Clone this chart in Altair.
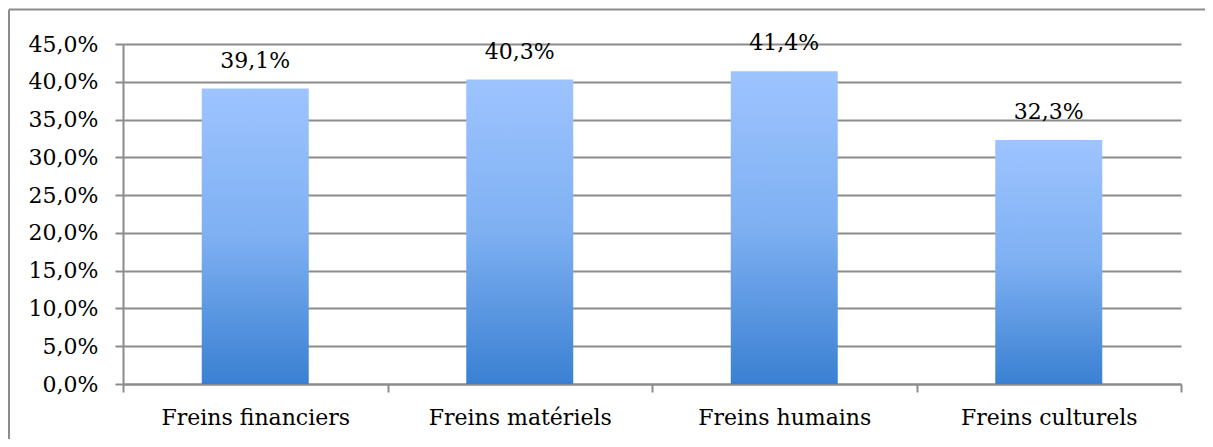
import altair as alt
import pandas as pd

categories = ["Freins financiers", "Freins matériels", "Freins humains", "Freins culturels"]
values = [39.1, 40.3, 41.4, 32.3]
y_ticks = [0, 5, 10, 15, 20, 25, 30, 35, 40, 45]

df = pd.DataFrame({"cat": categories, "val": values})
df["label"] = [f"{v:.1f}".replace(".", ",") + "%" for v in values]

W, H = 1058, 340
FONT = "DejaVu Serif"
GRID = "#8c8c8c"

base = alt.Chart(df)

x = alt.X(
    "cat:N", sort=categories, title=None,
    scale=alt.Scale(paddingInner=0, paddingOuter=0),
    axis=alt.Axis(labelAngle=0, tickBand="extent", tickSize=8, tickColor=GRID, tickWidth=2,
                  domainColor=GRID, domainWidth=2, labelFont=FONT, labelFontSize=22,
                  labelColor="black", labelPadding=15, labelLimit=0, labelOverlap=False,
                  grid=False),
)
y = alt.Y(
    "val:Q", title=None,
    scale=alt.Scale(domain=[0, 45], nice=False),
    axis=alt.Axis(values=y_ticks,
                  labelExpr="replace(format(datum.value, '.1f'), '.', ',') + '%'",
                  tickSize=8, tickColor=GRID, tickWidth=2, domainColor=GRID, domainWidth=2,
                  grid=True, gridColor=GRID, gridWidth=2, labelFont=FONT, labelFontSize=22,
                  labelColor="black", labelPadding=17, labelOverlap=False, labelLimit=0),
)

grad = alt.Gradient(
    gradient="linear",
    stops=[alt.GradientStop(color="#9EC4FF", offset=0),
           alt.GradientStop(color="#7EB0F2", offset=0.5),
           alt.GradientStop(color="#3A80D2", offset=1)],
    x1=0, x2=0, y1=0, y2=1,
)

bars = base.mark_bar(size=107, color=grad).encode(x=x, y=y)
labels = base.mark_text(baseline="bottom", dy=-16, font=FONT, fontSize=22, color="black").encode(
    x=x, y=y, text="label:N"
)

one = alt.Chart(alt.Data(values=[{}]))
border_left = one.mark_rule(stroke=GRID, strokeWidth=2).encode(
    x=alt.value(-114), y=alt.value(-34.5), y2=alt.value(H + 70)
)
border_top = one.mark_rule(stroke=GRID, strokeWidth=2).encode(
    x=alt.value(-114), x2=alt.value(W + 24), y=alt.value(-34.5)
)

chart = alt.layer(border_left, border_top, bars, labels).properties(
    width=W, height=H,
    autosize=alt.AutoSizeParams(type="none"),
    padding={"left": 115, "top": 36, "right": 24, "bottom": 55},
).configure_view(stroke=None)

chart.save("out.html", embed_options={"renderer": "svg", "actions": False})
